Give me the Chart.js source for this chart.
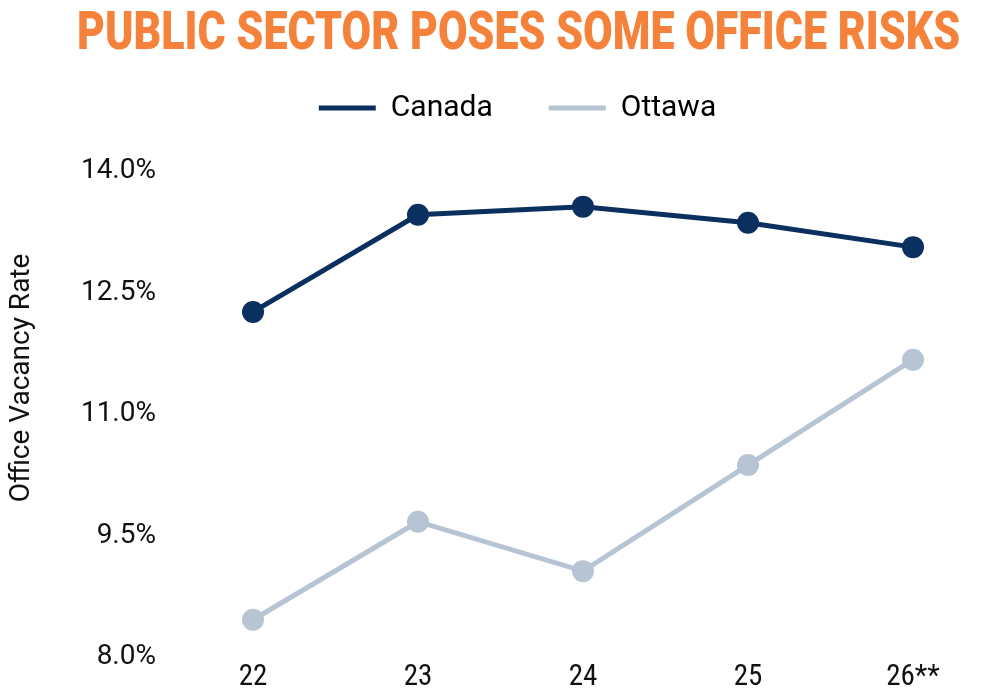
<!DOCTYPE html>
<html>
<head>
<meta charset="utf-8">
<script src="https://cdn.jsdelivr.net/npm/chart.js@4.4.0/dist/chart.umd.min.js"></script>
<style>
  html, body { margin: 0; padding: 0; background: #fff; }
  #wrap { position: relative; width: 1000px; height: 698px; }
  #title {
    position: absolute; left: 0; top: 0; width: 1000px; height: 70px;
    font-family: Roboto, sans-serif; font-weight: 900; font-size: 53px;
    color: #f5823a; white-space: nowrap; line-height: 62px;
  }
  #title span { display: inline-block; transform-origin: 0 0; }
</style>
</head>
<body>
<div id="wrap">
  <canvas id="myChart" width="1000" height="698"></canvas>
  <div id="title"><span id="titleText">PUBLIC SECTOR POSES SOME OFFICE RISKS</span></div>
</div>
<script>
const years = ['22', '23', '24', '25', '26**'];
const canada = [12.26, 13.46, 13.56, 13.36, 13.06];
const ottawa = [8.46, 9.67, 9.06, 10.37, 11.67];
const yTicks = [8.0, 9.5, 11.0, 12.5, 14.0];
const yTitle = 'Office Vacancy Rate';

// squeeze the title into the condensed look of the original
const t = document.getElementById('titleText');
const sx = 883 / t.offsetWidth;
t.style.transform = 'scaleX(' + sx + ')';
t.style.marginLeft = '77px';

const navy = '#0b2f5f';
const grey = '#b7c4d3';

// legend sits a bit right of the plot centre and well above the plot
const shiftLegendPlugin = {
    id: 'shiftLegend',
    afterLayout(chart) {
        const lg = chart.legend;
        lg.left += 61;
        lg.right += 61;
        lg.top -= 38;
        lg.bottom -= 38;
    }
};

// rotated axis title, placed higher than the plot centre like the original
const yTitlePlugin = {
    id: 'yTitle',
    afterDraw(chart) {
        const ctx = chart.ctx;
        ctx.save();
        ctx.translate(22, 378);
        ctx.rotate(-Math.PI / 2);
        ctx.font = '28px Roboto';
        ctx.fillStyle = '#111';
        ctx.textAlign = 'center';
        ctx.textBaseline = 'middle';
        ctx.fillText(yTitle, 0, 0);
        ctx.restore();
    }
};

const data = {
    labels: years,
    datasets: [{
        label: 'Canada',
        data: canada,
        borderColor: navy,
        backgroundColor: navy,
    }, {
        label: 'Ottawa',
        data: ottawa,
        borderColor: grey,
        backgroundColor: grey,
    }]
};

const config = {
    type: 'line',
    data: data,
    options: {
        responsive: false,
        animation: false,
        devicePixelRatio: 1,
        clip: false,
        layout: {
            padding: { top: 36, right: 87, bottom: 0, left: 0 }
        },
        elements: {
            point: { radius: 11, hoverRadius: 11, borderWidth: 0 },
            line: { borderWidth: 5, tension: 0 }
        },
        scales: {
            x: {
                offset: false,
                grid: { display: false, drawTicks: false },
                border: { display: false },
                ticks: {
                    color: '#111',
                    padding: 6,
                    maxRotation: 0,
                    font: { family: "'Liberation Sans Narrow', 'Roboto Condensed', Roboto", size: 29, lineHeight: 1 }
                }
            },
            y: {
                min: 8,
                max: 14,
                grid: { display: false, drawTicks: false },
                border: { display: false },
                afterFit: function(scale) {
                    scale.width = 253;
                    // big tick padding would otherwise eat the plot height
                    scale.paddingTop = 171;
                    scale.paddingBottom = 20;
                },
                afterBuildTicks: function(scale) {
                    scale.ticks = yTicks.map(v => ({ value: v }));
                },
                ticks: {
                    color: '#111',
                    padding: 97,
                    font: { family: 'Roboto', size: 28 },
                    callback: function(value) {
                        return value.toFixed(1) + '%';
                    }
                }
            }
        },
        plugins: {
            title: { display: false },
            tooltip: { enabled: false },
            legend: {
                position: 'top',
                labels: {
                    usePointStyle: true,
                    pointStyle: 'line',
                    pointStyleWidth: 57,
                    padding: 56,
                    color: '#111',
                    font: { family: 'Roboto', size: 30 },
                    generateLabels: function(chart) {
                        return chart.data.datasets.map((ds, i) => ({
                            text: ds.label,
                            strokeStyle: ds.borderColor,
                            fillStyle: ds.borderColor,
                            lineWidth: 5,
                            pointStyle: 'line',
                            hidden: false,
                            datasetIndex: i
                        }));
                    }
                }
            }
        }
    },
    plugins: [shiftLegendPlugin, yTitlePlugin]
};

const myChart = document.getElementById('myChart');
const chart = new Chart(myChart, config);
</script>
</body>
</html>
